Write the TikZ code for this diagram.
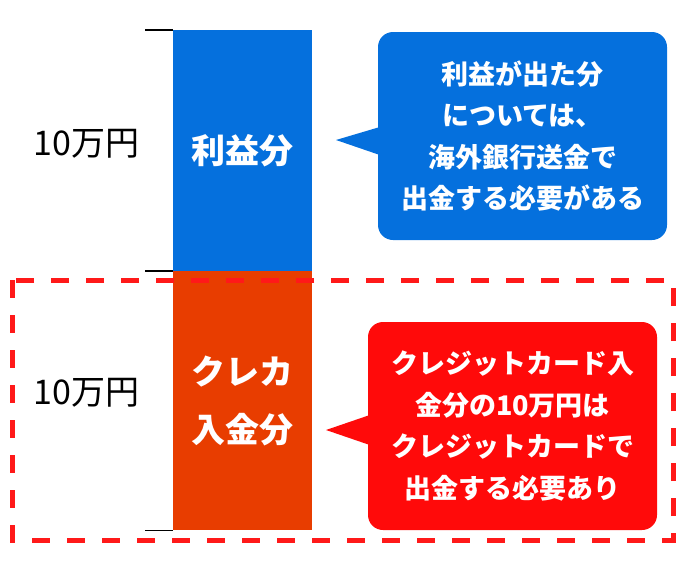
\documentclass[tikz,border=0pt]{standalone}
\usepackage{fontspec}
\usetikzlibrary{positioning}
\newfontfamily\jp{Noto Sans CJK JP}
\definecolor{profitblue}{RGB}{5,112,221}
\definecolor{cardorange}{RGB}{232,61,0}
\definecolor{notered}{RGB}{255,10,10}
\definecolor{framered}{RGB}{255,25,25}
\tikzset{
    bar/.style={minimum width=139pt, inner sep=0pt, text=white, align=center,
        font=\jp\bfseries\fontsize{34}{58}\selectfont},
    bubble/.style={rounded corners=15pt, minimum width=289pt, minimum height=208pt,
        text=white, align=center, font=\jp\bfseries\fontsize{27}{41.5}\selectfont},
    amount/.style={font=\jp\fontsize{34}{34}\selectfont},
}
\begin{document}
\begin{tikzpicture}[x=1pt,y=-1pt]
        \useasboundingbox (0,0) rectangle (700,560);
        % bars
            \node[bar, fill=profitblue, minimum height=241pt] (profit) at (242.5,150.5) {利益分};
            \node[bar, fill=cardorange, minimum height=259pt, below=0pt of profit] (card) {クレカ\\入金分};
            \foreach \a in {profit.north west, profit.south west, card.south west}{
                \draw[line width=1.5pt] (\a) -- ++(-28,0);
            }
        % amounts
            \node[amount, left=30pt of profit.west, yshift=7pt] (amt1) {10万円};
            \node[amount, left=30pt of card.west, yshift=8pt] (amt2) {10万円};
        % bubbles
            \node[bubble, fill=profitblue] (profitnote) at (522.5,136) {利益が出た分\\については、\\海外銀行送金で\\出金する必要がある};
            \coordinate (profittip) at (336,140);
            \fill[profitblue] (profittip) -- ([xshift=2pt,yshift=9pt]profitnote.west) -- ([xshift=2pt,yshift=-19pt]profitnote.west) -- cycle;
            \node[bubble, fill=notered] (cardnote) at (512.5,426) {クレジットカード入\\金分の10万円は\\クレジットカードで\\出金する必要あり};
            \coordinate (cardtip) at (326,430);
            \fill[notered] (cardtip) -- ([xshift=2pt,yshift=11pt]cardnote.west) -- ([xshift=2pt,yshift=-19pt]cardnote.west) -- cycle;
        % frame
            \draw[framered, line width=5pt, dash pattern=on 18pt off 17pt] (12,280) rectangle (673,540);
\end{tikzpicture}
\end{document}
